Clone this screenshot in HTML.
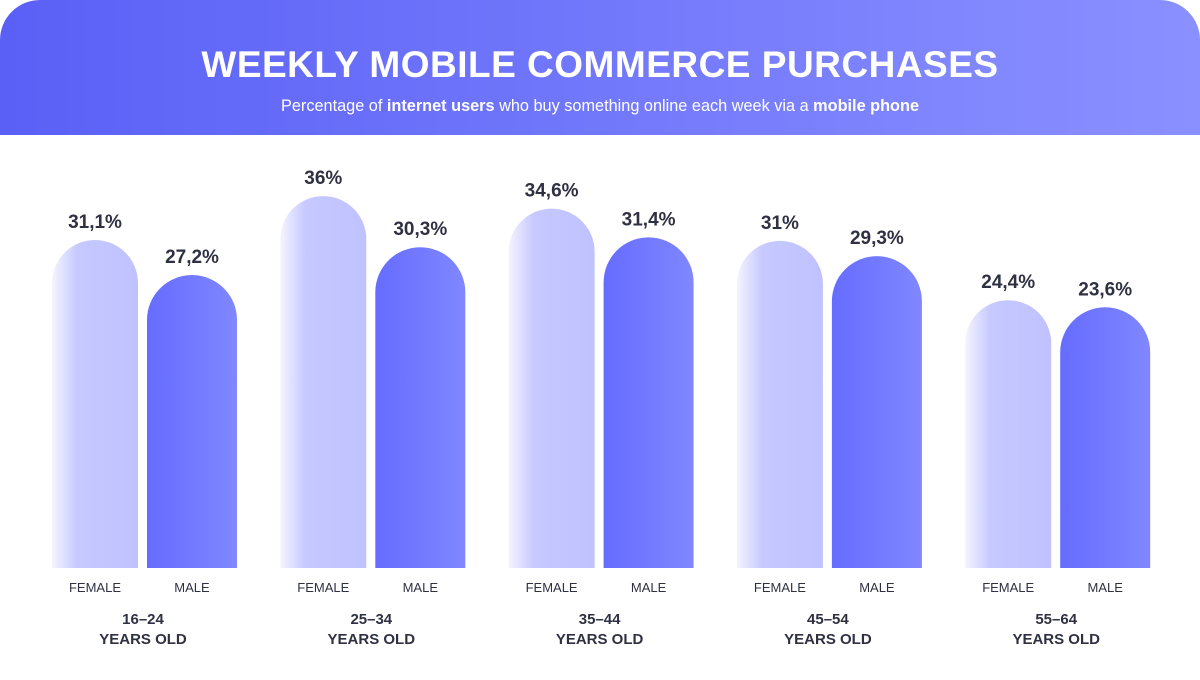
<!DOCTYPE html>
<html><head><meta charset="utf-8"><style>
body{margin:0;width:1200px;height:680px;background:#fff;font-family:"Liberation Sans",sans-serif;overflow:hidden}
#hdr{position:absolute;left:0;top:0;width:1200px;height:135px;border-radius:40px 40px 0 0;background:linear-gradient(90deg,#5a60f6,#8a90ff)}
#title{position:absolute;top:44px;width:1200px;text-align:center;color:#fff;font-weight:bold;font-size:37px;letter-spacing:0.5px}
#sub{position:absolute;top:97px;width:1200px;text-align:center;color:#fff;font-size:16.3px}
</style></head><body>
<div id="hdr"></div>
<div id="title">WEEKLY MOBILE COMMERCE PURCHASES</div>
<div id="sub">Percentage of <b>internet users</b> who buy something online each week via a <b>mobile phone</b></div>
<svg id="chart" width="1200" height="680" style="position:absolute;left:0;top:0">
<defs>
<linearGradient id="gf" x1="0" x2="1"><stop offset="0" stop-color="#f4f4ff"/><stop offset="0.3" stop-color="#c6c8ff"/><stop offset="1" stop-color="#bfc2ff"/></linearGradient>
<linearGradient id="gm" x1="0" x2="1"><stop offset="0" stop-color="#666cff"/><stop offset="1" stop-color="#8087ff"/></linearGradient>
</defs>
</svg>
<script>
const groups=["16-24","25-34","35-44","45-54","55-64"];
const female=[31.1,36,34.6,31,24.4];
const male=[27.2,30.3,31.4,29.3,23.6];
const femaleLabels=["31,1%","36%","34,6%","31%","24,4%"];
const maleLabels=["27,2%","30,3%","31,4%","29,3%","23,6%"];
const svg=document.getElementById('chart');
const NS='http://www.w3.org/2000/svg';
const base=568;
function y(v){return base-(49+8.97*v);}
function gx(i){return 52+228.3*i;}
function bar(x,w,v,fill,lbl,name){
  const t=y(v),r=w/2;
  const p=document.createElementNS(NS,'path');
  p.setAttribute('d',`M${x},${base}V${t+r}A${r},${r} 0 0 1 ${x+w},${t+r}V${base}Z`);
  p.setAttribute('fill',fill);
  
  
  svg.appendChild(p);
  const tx=document.createElementNS(NS,'text');
  tx.setAttribute('x',x+w/2);tx.setAttribute('y',t-12);
  tx.setAttribute('text-anchor','middle');tx.setAttribute('font-size','19');tx.setAttribute('font-weight','bold');tx.setAttribute('fill','#2e3142');
  tx.textContent=lbl;
  
  
  svg.appendChild(tx);
}
function txt(x,yy,s,sz,wt,name){
  const t=document.createElementNS(NS,'text');
  t.setAttribute('x',x);t.setAttribute('y',yy);t.setAttribute('text-anchor','middle');
  t.setAttribute('font-size',sz);t.setAttribute('font-weight',wt);t.setAttribute('fill','#2e3142');
  t.textContent=s;
  
  
  svg.appendChild(t);
}
groups.forEach((g,i)=>{
  const x=gx(i);
  bar(x,86,female[i],'url(#gf)',femaleLabels[i],'bar-female');
  bar(x+95,90,male[i],'url(#gm)',maleLabels[i],'bar-male');
  txt(x+43,592,'FEMALE',13,'normal','female-label');
  txt(x+140,592,'MALE',13,'normal','male-label');
  txt(x+91,624,g.replace('-','–'),15,'bold','age-group-label');
  txt(x+91,644,'YEARS OLD',15,'bold','age-group-label');
});
</script>
</body></html>
